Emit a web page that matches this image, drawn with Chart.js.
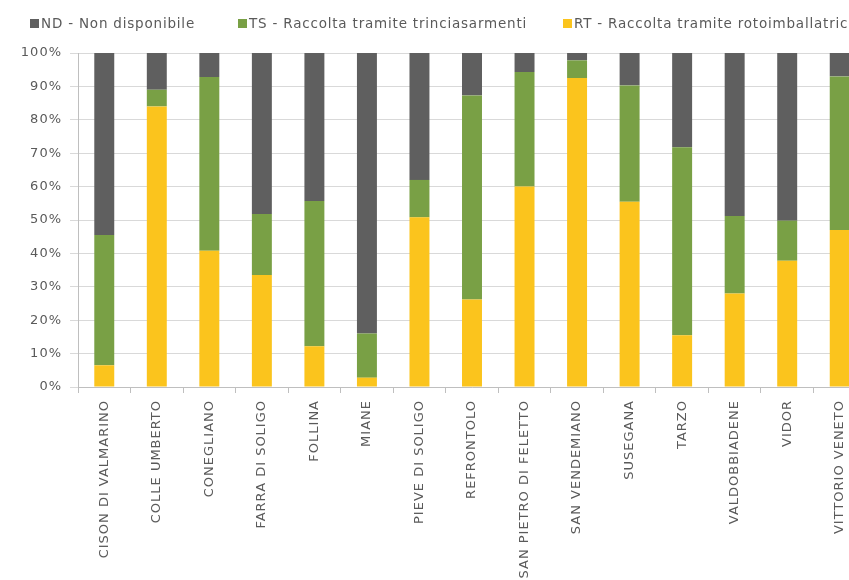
<!DOCTYPE html>
<html>
<head>
<meta charset="utf-8">
<script src="https://cdn.jsdelivr.net/npm/chart.js@4.4.1/dist/chart.umd.min.js"></script>
<style>
  html, body { margin: 0; padding: 0; background: #fff; overflow: hidden; width: 849px; height: 580px; }
  #wrap { position: relative; width: 870px; height: 580px; }
  .leg { position: absolute; top: 15px; font: 13.5px "DejaVu Sans", sans-serif; letter-spacing: 0.8px; color: #5a5a5a; white-space: nowrap; line-height: 16px; }
  .leg i { display: inline-block; width: 9px; height: 9px; margin-right: 2px; vertical-align: 0px; }
</style>
</head>
<body>
<div id="wrap">
  <canvas id="chart" width="870" height="580"></canvas>
  <div class="leg" id="leg0" style="left:30px"></div>
  <div class="leg" id="leg1" style="left:238px"></div>
  <div class="leg" id="leg2" style="left:563px"></div>
</div>
<script>
// comuni
var comuni = ['CISON DI VALMARINO', 'COLLE UMBERTO', 'CONEGLIANO', 'FARRA DI SOLIGO', 'FOLLINA',
  'MIANE', 'PIEVE DI SOLIGO', 'REFRONTOLO', 'SAN PIETRO DI FELETTO', 'SAN VENDEMIANO',
  'SUSEGANA', 'TARZO', 'VALDOBBIADENE', 'VIDOR', 'VITTORIO VENETO'];

// quote percentuali per tipo di raccolta
var rt = [6.5, 84, 40.8, 33.5, 12.2, 2.8, 50.8, 26.2, 60, 92.5, 55.5, 15.5, 28, 37.8, 47];
var ts = [39, 5, 52, 18.3, 43.5, 13.2, 11.2, 61.1, 34.3, 5.3, 34.8, 56.3, 23.2, 12, 46];
var nd = [54.5, 11, 7.2, 48.2, 44.3, 84, 38, 12.7, 5.7, 2.2, 9.7, 28.2, 48.8, 50.2, 7];

var yTicks = [0, 10, 20, 30, 40, 50, 60, 70, 80, 90, 100];

var legendNames = ['ND - Non disponibile', 'TS - Raccolta tramite trinciasarmenti', 'RT - Raccolta tramite rotoimballatrici'];
var legendColors = ['#5f5f5f', '#79a045', '#fbc41d'];

// legenda
for (var i = 0; i < legendNames.length; i++) {
  var el = document.getElementById('leg' + i);
  el.innerHTML = '<i style="background:' + legendColors[i] + '"></i>' + legendNames[i];
}

// testo un po' spaziato come nell'originale
var spacing = {
  id: 'spacing',
  beforeDraw: function (chart) { chart.ctx.letterSpacing = '1px'; }
};

var ctx = document.getElementById('chart');
var config = {
  type: 'bar',
  data: {
    labels: comuni,
    datasets: [
      { label: legendNames[2], data: rt, backgroundColor: legendColors[2] },
      { label: legendNames[1], data: ts, backgroundColor: legendColors[1] },
      { label: legendNames[0], data: nd, backgroundColor: legendColors[0] }
    ]
  },
  options: {
    responsive: false,
    animation: false,
    layout: { padding: { top: 53, right: 4, left: 0, bottom: 0 } },
    datasets: { bar: { barPercentage: 0.38, categoryPercentage: 1 } },
    plugins: { legend: { display: false }, tooltip: { enabled: false } },
    scales: {
      x: {
        stacked: true,
        grid: { drawOnChartArea: false, offset: true, tickLength: 6, color: '#bfbfbf' },
        border: { color: '#bfbfbf' },
        ticks: {
          minRotation: 90, maxRotation: 90, padding: 7,
          color: '#5a5a5a', font: { family: 'DejaVu Sans', size: 13 }
        },
        afterFit: function (s) { s.height = 193; }
      },
      y: {
        stacked: true,
        min: 0, max: 100,
        afterBuildTicks: function (s) { s.ticks = yTicks.map(function (v) { return { value: v }; }); },
        grid: { color: '#d9d9d9', tickLength: 8 },
        border: { color: '#bfbfbf' },
        ticks: {
          padding: 8, color: '#5a5a5a', font: { family: 'DejaVu Sans', size: 13 },
          callback: function (v) { return v + '%'; }
        },
        afterFit: function (s) { s.width = 78; }
      }
    }
  },
  plugins: [spacing]
};
var chart = new Chart(ctx, config);
</script>
</body>
</html>
